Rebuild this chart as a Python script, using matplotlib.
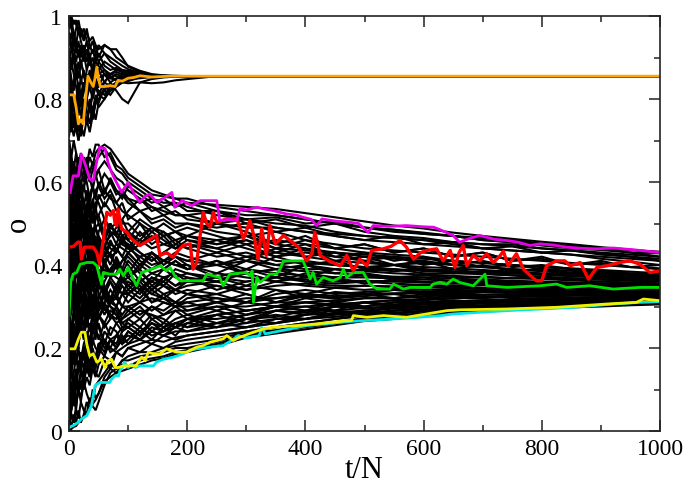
import matplotlib
matplotlib.use("Agg")
import matplotlib.pyplot as plt
from matplotlib.ticker import MultipleLocator, FixedLocator, FixedFormatter

plt.rcParams['font.family'] = ['Liberation Serif', 'DejaVu Serif']

# ---- time grids (t/N) ----
grid_early = [0, 4, 8, 12, 16, 20, 25, 30, 35, 40, 45, 50, 60, 70, 80, 90, 100, 120, 140, 160, 180, 200]
grid_late = [250, 300, 350, 400, 450, 500, 550, 600, 650, 700, 750, 800, 850, 900, 950, 1000]
grid_upper = grid_early + [250, 1000]

# ---- black trajectories of the lower cluster: early part (t <= 200) ----
lower_early = [
    [0.00,0.005,0.01,0.012,0.02,0.025,0.035,0.045,0.055,0.065,0.075,0.09,0.12,0.13,0.14,0.145,0.15,0.16,0.17,0.175,0.185,0.19],
    [0.03,0.01,0.04,0.02,0.05,0.02,0.04,0.07,0.05,0.10,0.08,0.09,0.13,0.15,0.14,0.16,0.155,0.17,0.175,0.18,0.19,0.195],
    [0.08,0.04,0.02,0.05,0.03,0.07,0.05,0.04,0.08,0.07,0.11,0.12,0.14,0.16,0.15,0.17,0.17,0.18,0.185,0.19,0.2,0.20],
    [0.12,0.15,0.10,0.07,0.11,0.14,0.12,0.09,0.07,0.06,0.05,0.07,0.11,0.14,0.15,0.17,0.18,0.19,0.19,0.20,0.205,0.21],
    [0.18,0.14,0.11,0.15,0.10,0.08,0.12,0.15,0.13,0.17,0.14,0.13,0.17,0.15,0.19,0.18,0.20,0.21,0.22,0.215,0.225,0.23],
    [0.22,0.26,0.21,0.17,0.20,0.15,0.19,0.16,0.20,0.15,0.18,0.21,0.22,0.19,0.20,0.22,0.23,0.22,0.21,0.23,0.24,0.24],
    [0.27,0.23,0.29,0.31,0.26,0.30,0.25,0.22,0.26,0.21,0.24,0.26,0.21,0.25,0.24,0.21,0.22,0.25,0.23,0.24,0.26,0.25],
    [0.31,0.35,0.30,0.26,0.23,0.27,0.30,0.27,0.32,0.29,0.26,0.28,0.26,0.29,0.28,0.25,0.25,0.23,0.26,0.24,0.25,0.27],
    [0.35,0.31,0.36,0.32,0.37,0.33,0.29,0.25,0.29,0.27,0.31,0.29,0.33,0.30,0.29,0.26,0.27,0.29,0.28,0.27,0.25,0.26],
    [0.38,0.42,0.38,0.34,0.31,0.36,0.33,0.37,0.34,0.30,0.32,0.29,0.31,0.28,0.27,0.30,0.30,0.28,0.30,0.29,0.31,0.29],
    [0.42,0.38,0.34,0.39,0.35,0.33,0.38,0.34,0.37,0.35,0.32,0.31,0.28,0.31,0.32,0.30,0.29,0.31,0.32,0.31,0.30,0.30],
    [0.46,0.42,0.48,0.44,0.41,0.38,0.42,0.39,0.43,0.40,0.36,0.37,0.34,0.32,0.30,0.33,0.33,0.35,0.31,0.33,0.34,0.33],
    [0.50,0.46,0.43,0.47,0.42,0.39,0.43,0.45,0.40,0.38,0.35,0.34,0.39,0.37,0.35,0.33,0.31,0.34,0.36,0.35,0.33,0.34],
    [0.54,0.50,0.56,0.52,0.49,0.46,0.43,0.47,0.44,0.48,0.45,0.43,0.40,0.38,0.37,0.36,0.35,0.33,0.37,0.36,0.34,0.35],
    [0.58,0.54,0.51,0.55,0.57,0.53,0.49,0.52,0.48,0.46,0.49,0.47,0.44,0.42,0.40,0.39,0.37,0.39,0.35,0.37,0.38,0.37],
    [0.62,0.58,0.64,0.60,0.56,0.59,0.55,0.52,0.49,0.53,0.49,0.46,0.42,0.45,0.44,0.42,0.40,0.36,0.38,0.37,0.35,0.36],
    [0.66,0.62,0.59,0.63,0.60,0.56,0.59,0.56,0.52,0.55,0.51,0.52,0.47,0.44,0.43,0.46,0.45,0.41,0.39,0.41,0.40,0.40],
    [0.70,0.66,0.63,0.67,0.62,0.59,0.63,0.60,0.56,0.59,0.56,0.55,0.51,0.49,0.48,0.46,0.44,0.42,0.43,0.41,0.40,0.39],
    [0.05,0.08,0.12,0.10,0.15,0.19,0.17,0.24,0.21,0.28,0.25,0.32,0.36,0.39,0.41,0.37,0.38,0.42,0.40,0.41,0.43,0.42],
    [0.10,0.14,0.18,0.23,0.20,0.27,0.31,0.28,0.35,0.38,0.36,0.42,0.45,0.42,0.43,0.47,0.46,0.43,0.41,0.43,0.45,0.44],
    [0.15,0.19,0.24,0.21,0.28,0.33,0.30,0.38,0.35,0.44,0.41,0.48,0.51,0.48,0.47,0.45,0.44,0.46,0.44,0.45,0.44,0.45],
    [0.20,0.25,0.29,0.34,0.31,0.37,0.43,0.40,0.46,0.47,0.51,0.52,0.55,0.53,0.52,0.50,0.50,0.47,0.49,0.47,0.48,0.46],
    [0.25,0.29,0.34,0.31,0.38,0.42,0.46,0.44,0.50,0.52,0.55,0.56,0.58,0.56,0.55,0.53,0.52,0.50,0.48,0.50,0.48,0.49],
    [0.30,0.35,0.39,0.44,0.41,0.46,0.50,0.54,0.51,0.55,0.58,0.59,0.62,0.60,0.58,0.57,0.56,0.53,0.51,0.52,0.50,0.50],
    [0.34,0.39,0.44,0.48,0.45,0.50,0.55,0.52,0.57,0.59,0.62,0.63,0.65,0.63,0.61,0.60,0.58,0.56,0.53,0.54,0.52,0.52],
    [0.40,0.44,0.49,0.45,0.52,0.55,0.59,0.62,0.60,0.63,0.65,0.66,0.68,0.66,0.63,0.62,0.60,0.58,0.56,0.55,0.55,0.54],
    [0.45,0.50,0.47,0.53,0.57,0.60,0.58,0.63,0.66,0.64,0.67,0.68,0.69,0.68,0.66,0.64,0.62,0.60,0.58,0.57,0.56,0.56],
    [0.48,0.53,0.58,0.55,0.60,0.62,0.66,0.64,0.68,0.66,0.69,0.69,0.66,0.67,0.64,0.63,0.61,0.59,0.57,0.565,0.56,0.55],
    [0.60,0.64,0.60,0.56,0.52,0.55,0.50,0.47,0.43,0.46,0.41,0.38,0.34,0.37,0.38,0.41,0.42,0.39,0.43,0.41,0.42,0.40],
    [0.64,0.59,0.55,0.58,0.53,0.48,0.51,0.46,0.43,0.39,0.42,0.33,0.29,0.31,0.33,0.36,0.37,0.34,0.31,0.32,0.34,0.33],
    [0.68,0.63,0.58,0.54,0.57,0.50,0.46,0.49,0.44,0.40,0.43,0.36,0.32,0.30,0.28,0.26,0.25,0.27,0.24,0.26,0.25,0.27],
    [0.02,0.05,0.08,0.11,0.09,0.15,0.13,0.20,0.18,0.25,0.22,0.29,0.33,0.31,0.30,0.33,0.34,0.37,0.34,0.36,0.39,0.38],
    [0.07,0.11,0.08,0.05,0.12,0.10,0.15,0.18,0.14,0.22,0.20,0.19,0.24,0.22,0.21,0.24,0.25,0.23,0.27,0.25,0.26,0.25],
    [0.44,0.48,0.52,0.49,0.46,0.51,0.47,0.51,0.55,0.52,0.49,0.50,0.46,0.49,0.50,0.47,0.48,0.51,0.49,0.48,0.46,0.47],
    [0.56,0.52,0.48,0.45,0.49,0.53,0.49,0.46,0.50,0.45,0.41,0.41,0.37,0.39,0.41,0.39,0.38,0.35,0.33,0.32,0.31,0.31],
    [0.28,0.32,0.36,0.33,0.37,0.35,0.40,0.37,0.41,0.36,0.39,0.41,0.45,0.47,0.49,0.51,0.53,0.56,0.54,0.53,0.52,0.52],
    [0.13,0.16,0.19,0.22,0.19,0.17,0.21,0.23,0.20,0.26,0.24,0.23,0.20,0.22,0.23,0.25,0.26,0.24,0.26,0.25,0.27,0.28],
    [0.36,0.33,0.29,0.26,0.30,0.34,0.31,0.35,0.32,0.31,0.28,0.27,0.30,0.28,0.26,0.27,0.28,0.30,0.27,0.28,0.29,0.29],
    [0.52,0.48,0.44,0.47,0.42,0.38,0.35,0.32,0.29,0.31,0.27,0.25,0.21,0.20,0.19,0.20,0.21,0.22,0.24,0.23,0.22,0.23],
    [0.66,0.61,0.57,0.60,0.56,0.51,0.48,0.44,0.47,0.42,0.44,0.45,0.41,0.43,0.45,0.44,0.43,0.45,0.47,0.45,0.46,0.44],
    [0.04,0.09,0.06,0.12,0.17,0.14,0.20,0.17,0.23,0.19,0.16,0.18,0.22,0.20,0.23,0.21,0.24,0.22,0.25,0.24,0.26,0.27],
    [0.24,0.20,0.16,0.20,0.24,0.28,0.25,0.30,0.27,0.33,0.30,0.27,0.31,0.34,0.32,0.35,0.33,0.36,0.33,0.35,0.34,0.36],
    [0.32,0.37,0.41,0.38,0.43,0.39,0.44,0.40,0.37,0.41,0.38,0.36,0.40,0.38,0.41,0.39,0.37,0.40,0.38,0.39,0.37,0.38],
    [0.40,0.36,0.41,0.45,0.41,0.46,0.42,0.47,0.50,0.47,0.44,0.46,0.43,0.40,0.44,0.42,0.45,0.43,0.41,0.43,0.42,0.41],
    [0.49,0.45,0.50,0.47,0.44,0.48,0.52,0.49,0.45,0.49,0.46,0.43,0.47,0.50,0.47,0.45,0.48,0.46,0.49,0.47,0.48,0.47],
    [0.57,0.61,0.65,0.62,0.66,0.63,0.60,0.64,0.61,0.58,0.62,0.59,0.56,0.58,0.55,0.57,0.55,0.53,0.54,0.52,0.53,0.51],
    [0.09,0.05,0.09,0.13,0.09,0.12,0.10,0.13,0.11,0.15,0.13,0.16,0.18,0.17,0.19,0.18,0.20,0.19,0.21,0.20,0.215,0.22],
    [0.16,0.21,0.26,0.23,0.29,0.26,0.31,0.28,0.24,0.28,0.31,0.28,0.25,0.27,0.30,0.28,0.30,0.31,0.29,0.31,0.30,0.31],
    [0.53,0.57,0.53,0.49,0.54,0.50,0.46,0.50,0.46,0.43,0.47,0.44,0.40,0.43,0.39,0.41,0.43,0.40,0.42,0.39,0.41,0.39],
    [0.70,0.66,0.70,0.67,0.64,0.67,0.63,0.66,0.62,0.65,0.61,0.63,0.58,0.60,0.57,0.58,0.56,0.55,0.56,0.54,0.55,0.53],
    [0.11,0.15,0.19,0.16,0.21,0.25,0.22,0.27,0.31,0.28,0.33,0.30,0.34,0.31,0.35,0.33,0.36,0.34,0.37,0.35,0.38,0.36],
    [0.19,0.23,0.27,0.32,0.28,0.33,0.37,0.34,0.39,0.43,0.40,0.45,0.42,0.46,0.43,0.47,0.44,0.48,0.45,0.47,0.44,0.46],
    [0.29,0.25,0.21,0.25,0.29,0.26,0.23,0.27,0.24,0.28,0.25,0.22,0.26,0.23,0.26,0.24,0.27,0.25,0.28,0.26,0.29,0.27],
    [0.37,0.41,0.45,0.42,0.38,0.42,0.46,0.43,0.40,0.37,0.40,0.36,0.33,0.36,0.33,0.30,0.33,0.31,0.34,0.32,0.30,0.32],
    [0.43,0.47,0.44,0.40,0.44,0.41,0.37,0.41,0.38,0.42,0.39,0.43,0.40,0.37,0.40,0.38,0.41,0.38,0.36,0.39,0.41,0.39],
    [0.51,0.55,0.51,0.55,0.51,0.47,0.51,0.55,0.52,0.56,0.53,0.57,0.54,0.57,0.53,0.55,0.51,0.53,0.50,0.51,0.49,0.50],
    [0.59,0.55,0.59,0.55,0.51,0.55,0.51,0.47,0.51,0.47,0.43,0.47,0.44,0.48,0.45,0.49,0.46,0.50,0.46,0.48,0.45,0.47],
    [0.01,0.04,0.02,0.06,0.10,0.07,0.12,0.16,0.13,0.18,0.15,0.20,0.18,0.22,0.20,0.23,0.21,0.24,0.22,0.25,0.23,0.26],
    [0.26,0.30,0.34,0.30,0.34,0.38,0.34,0.30,0.34,0.38,0.35,0.39,0.35,0.32,0.35,0.38,0.35,0.37,0.34,0.37,0.35,0.37],
    [0.47,0.43,0.39,0.43,0.39,0.35,0.39,0.35,0.31,0.35,0.32,0.36,0.33,0.36,0.34,0.37,0.34,0.32,0.35,0.33,0.31,0.33],
    [0.55,0.59,0.63,0.59,0.55,0.51,0.55,0.51,0.55,0.59,0.56,0.60,0.57,0.61,0.58,0.56,0.59,0.57,0.55,0.56,0.54,0.55],
    [0.33,0.29,0.33,0.29,0.25,0.29,0.33,0.29,0.33,0.37,0.33,0.37,0.41,0.38,0.42,0.39,0.43,0.40,0.43,0.40,0.42,0.41],
    [0.14,0.10,0.14,0.18,0.14,0.18,0.15,0.19,0.16,0.20,0.17,0.21,0.19,0.22,0.20,0.22,0.24,0.22,0.24,0.23,0.25,0.24],
    [0.62,0.66,0.62,0.58,0.62,0.58,0.54,0.58,0.54,0.50,0.54,0.50,0.47,0.50,0.47,0.51,0.48,0.45,0.48,0.46,0.44,0.45],
    [0.21,0.17,0.21,0.25,0.21,0.25,0.29,0.25,0.29,0.33,0.29,0.33,0.30,0.27,0.30,0.27,0.29,0.27,0.30,0.28,0.30,0.28],
]

# ---- same trajectories, late part (t >= 250) ----
lower_late = [
    [0.205,0.225,0.235,0.245,0.255,0.265,0.27,0.278,0.283,0.288,0.292,0.295,0.298,0.30,0.303,0.305],
    [0.21,0.23,0.24,0.25,0.26,0.268,0.274,0.281,0.286,0.29,0.294,0.297,0.30,0.302,0.305,0.307],
    [0.215,0.235,0.243,0.255,0.262,0.272,0.278,0.284,0.289,0.294,0.297,0.30,0.303,0.305,0.307,0.309],
    [0.22,0.24,0.25,0.26,0.27,0.277,0.282,0.288,0.293,0.297,0.30,0.303,0.306,0.308,0.31,0.312],
    [0.24,0.25,0.26,0.27,0.275,0.283,0.29,0.295,0.298,0.302,0.305,0.308,0.31,0.312,0.313,0.315],
    [0.25,0.26,0.27,0.28,0.283,0.29,0.296,0.30,0.304,0.307,0.31,0.312,0.314,0.316,0.317,0.318],
    [0.26,0.27,0.275,0.29,0.29,0.297,0.30,0.305,0.307,0.31,0.313,0.315,0.317,0.319,0.32,0.32],
    [0.27,0.28,0.29,0.285,0.30,0.30,0.31,0.31,0.312,0.315,0.318,0.32,0.32,0.322,0.323,0.322],
    [0.28,0.29,0.30,0.30,0.305,0.31,0.315,0.318,0.32,0.322,0.323,0.325,0.326,0.326,0.325,0.325],
    [0.30,0.30,0.31,0.31,0.315,0.32,0.32,0.325,0.327,0.328,0.33,0.33,0.33,0.33,0.329,0.328],
    [0.31,0.32,0.32,0.325,0.32,0.33,0.33,0.332,0.333,0.335,0.334,0.335,0.333,0.332,0.331,0.33],
    [0.32,0.31,0.33,0.34,0.33,0.335,0.34,0.335,0.34,0.338,0.34,0.338,0.336,0.335,0.334,0.333],
    [0.33,0.35,0.34,0.33,0.345,0.34,0.345,0.34,0.343,0.345,0.342,0.34,0.34,0.338,0.337,0.336],
    [0.36,0.34,0.35,0.355,0.35,0.35,0.348,0.35,0.347,0.345,0.346,0.344,0.343,0.342,0.341,0.34],
    [0.34,0.36,0.37,0.36,0.355,0.36,0.355,0.352,0.35,0.352,0.35,0.348,0.346,0.345,0.344,0.343],
    [0.38,0.37,0.36,0.37,0.365,0.36,0.362,0.358,0.356,0.355,0.353,0.352,0.35,0.348,0.347,0.346],
    [0.37,0.39,0.38,0.375,0.37,0.37,0.368,0.365,0.362,0.36,0.358,0.356,0.354,0.352,0.351,0.35],
    [0.41,0.38,0.39,0.385,0.38,0.375,0.372,0.37,0.367,0.365,0.362,0.36,0.358,0.356,0.355,0.353],
    [0.40,0.41,0.40,0.39,0.39,0.385,0.38,0.377,0.374,0.37,0.368,0.366,0.363,0.36,0.358,0.356],
    [0.42,0.43,0.41,0.405,0.40,0.395,0.39,0.386,0.383,0.38,0.375,0.372,0.368,0.365,0.362,0.36],
    [0.44,0.42,0.43,0.42,0.41,0.405,0.40,0.395,0.392,0.388,0.384,0.38,0.376,0.372,0.368,0.364],
    [0.45,0.46,0.44,0.435,0.43,0.42,0.415,0.41,0.40,0.395,0.39,0.386,0.382,0.377,0.372,0.368],
    [0.47,0.45,0.46,0.45,0.44,0.43,0.425,0.42,0.41,0.405,0.40,0.395,0.39,0.385,0.377,0.372],
    [0.48,0.47,0.48,0.46,0.45,0.44,0.435,0.43,0.425,0.42,0.415,0.41,0.405,0.40,0.395,0.39],
    [0.50,0.49,0.49,0.48,0.47,0.46,0.455,0.45,0.445,0.44,0.435,0.43,0.425,0.415,0.408,0.40],
    [0.52,0.51,0.50,0.495,0.48,0.47,0.465,0.46,0.455,0.45,0.445,0.44,0.435,0.428,0.42,0.41],
    [0.54,0.53,0.52,0.51,0.50,0.49,0.485,0.478,0.47,0.465,0.46,0.452,0.446,0.44,0.43,0.42],
    [0.545,0.54,0.535,0.525,0.515,0.505,0.495,0.488,0.478,0.47,0.463,0.456,0.45,0.443,0.437,0.43],
    [0.38,0.41,0.39,0.37,0.39,0.38,0.37,0.375,0.37,0.372,0.368,0.37,0.366,0.365,0.363,0.362],
    [0.35,0.33,0.31,0.33,0.32,0.325,0.33,0.32,0.325,0.323,0.327,0.325,0.328,0.326,0.327,0.326],
    [0.25,0.27,0.28,0.27,0.285,0.29,0.295,0.297,0.30,0.303,0.306,0.308,0.31,0.311,0.312,0.313],
    [0.36,0.39,0.37,0.40,0.38,0.39,0.385,0.39,0.38,0.385,0.38,0.378,0.375,0.372,0.37,0.368],
    [0.28,0.26,0.29,0.28,0.30,0.295,0.30,0.305,0.31,0.308,0.312,0.315,0.317,0.318,0.318,0.317],
    [0.50,0.48,0.45,0.47,0.44,0.45,0.43,0.44,0.42,0.43,0.41,0.42,0.40,0.41,0.395,0.40],
    [0.29,0.31,0.30,0.31,0.30,0.31,0.305,0.31,0.312,0.315,0.316,0.318,0.32,0.321,0.322,0.324],
    [0.53,0.50,0.51,0.49,0.50,0.48,0.47,0.465,0.455,0.45,0.45,0.44,0.435,0.43,0.425,0.42],
    [0.26,0.28,0.30,0.29,0.30,0.31,0.30,0.31,0.312,0.31,0.315,0.317,0.318,0.32,0.321,0.321],
    [0.31,0.29,0.30,0.32,0.31,0.32,0.32,0.325,0.33,0.328,0.33,0.331,0.332,0.333,0.332,0.331],
    [0.24,0.25,0.26,0.27,0.28,0.285,0.29,0.294,0.298,0.30,0.304,0.307,0.309,0.311,0.311,0.31],
    [0.46,0.44,0.42,0.43,0.42,0.41,0.40,0.405,0.40,0.395,0.39,0.385,0.38,0.38,0.378,0.375],
    [0.28,0.29,0.30,0.31,0.305,0.31,0.315,0.317,0.32,0.322,0.323,0.325,0.326,0.327,0.327,0.327],
    [0.35,0.34,0.36,0.35,0.345,0.35,0.348,0.346,0.347,0.345,0.344,0.343,0.342,0.341,0.34,0.339],
    [0.37,0.36,0.37,0.365,0.36,0.362,0.36,0.358,0.357,0.355,0.354,0.353,0.352,0.351,0.35,0.349],
    [0.40,0.42,0.40,0.41,0.40,0.395,0.40,0.39,0.385,0.383,0.38,0.376,0.373,0.37,0.367,0.365],
    [0.46,0.47,0.45,0.44,0.43,0.425,0.42,0.415,0.41,0.405,0.40,0.396,0.392,0.388,0.384,0.38],
    [0.50,0.51,0.49,0.48,0.475,0.47,0.465,0.46,0.45,0.44,0.435,0.43,0.425,0.42,0.415,0.41],
    [0.23,0.24,0.25,0.26,0.27,0.28,0.285,0.29,0.295,0.30,0.302,0.305,0.307,0.309,0.31,0.311],
    [0.32,0.31,0.32,0.33,0.325,0.33,0.332,0.333,0.335,0.336,0.337,0.338,0.338,0.338,0.337,0.336],
    [0.40,0.38,0.39,0.40,0.39,0.385,0.39,0.38,0.38,0.378,0.375,0.37,0.368,0.366,0.364,0.362],
    [0.53,0.52,0.52,0.51,0.50,0.49,0.48,0.475,0.47,0.46,0.455,0.45,0.444,0.44,0.436,0.432],
    [0.37,0.35,0.38,0.36,0.37,0.355,0.365,0.36,0.355,0.36,0.352,0.355,0.35,0.352,0.35,0.349],
    [0.44,0.46,0.43,0.45,0.42,0.43,0.41,0.42,0.40,0.41,0.395,0.40,0.39,0.385,0.38,0.378],
    [0.29,0.27,0.29,0.30,0.29,0.31,0.30,0.31,0.315,0.31,0.318,0.32,0.32,0.322,0.323,0.323],
    [0.33,0.31,0.34,0.32,0.335,0.33,0.34,0.335,0.338,0.34,0.338,0.34,0.339,0.338,0.337,0.337],
    [0.41,0.39,0.42,0.40,0.41,0.39,0.40,0.385,0.39,0.38,0.385,0.378,0.38,0.374,0.372,0.37],
    [0.49,0.50,0.48,0.49,0.47,0.46,0.47,0.45,0.455,0.44,0.445,0.43,0.435,0.425,0.42,0.415],
    [0.45,0.47,0.44,0.46,0.44,0.45,0.43,0.44,0.42,0.43,0.41,0.415,0.40,0.405,0.395,0.392],
    [0.25,0.27,0.26,0.28,0.29,0.285,0.30,0.30,0.305,0.31,0.31,0.313,0.315,0.316,0.316,0.315],
    [0.36,0.38,0.36,0.38,0.37,0.375,0.365,0.37,0.36,0.365,0.36,0.358,0.356,0.355,0.354,0.354],
    [0.31,0.33,0.31,0.325,0.32,0.33,0.32,0.33,0.33,0.334,0.335,0.336,0.336,0.335,0.335,0.334],
    [0.53,0.51,0.515,0.50,0.505,0.49,0.485,0.475,0.47,0.46,0.455,0.447,0.44,0.436,0.43,0.428],
    [0.43,0.41,0.44,0.42,0.43,0.41,0.42,0.40,0.41,0.395,0.40,0.39,0.386,0.382,0.379,0.376],
    [0.26,0.25,0.27,0.27,0.285,0.28,0.29,0.295,0.30,0.30,0.305,0.307,0.31,0.311,0.312,0.312],
    [0.43,0.45,0.42,0.44,0.41,0.42,0.40,0.41,0.39,0.40,0.385,0.39,0.38,0.38,0.376,0.373],
    [0.30,0.28,0.30,0.29,0.31,0.30,0.31,0.315,0.32,0.32,0.325,0.326,0.328,0.329,0.329,0.33],
]

# ---- black trajectories of the upper cluster (grid_upper) ----
upper_paths = [
    [0.99,0.97,0.99,0.98,0.96,0.97,0.95,0.96,0.94,0.95,0.93,0.92,0.93,0.92,0.90,0.89,0.88,0.868,0.86,0.857,0.856,0.855,0.855,0.855],
    [0.97,0.99,0.96,0.93,0.97,0.94,0.91,0.94,0.90,0.92,0.89,0.91,0.88,0.87,0.875,0.865,0.862,0.86,0.858,0.856,0.855,0.855,0.855,0.855],
    [0.95,0.92,0.95,0.91,0.94,0.90,0.93,0.89,0.91,0.87,0.89,0.88,0.86,0.855,0.845,0.86,0.855,0.857,0.855,0.856,0.855,0.855,0.855,0.855],
    [0.93,0.96,0.92,0.89,0.92,0.88,0.91,0.87,0.90,0.86,0.88,0.86,0.87,0.85,0.845,0.855,0.85,0.858,0.853,0.855,0.855,0.855,0.855,0.855],
    [0.91,0.87,0.91,0.88,0.85,0.89,0.86,0.83,0.87,0.84,0.87,0.85,0.86,0.84,0.82,0.80,0.79,0.84,0.848,0.852,0.854,0.855,0.855,0.855],
    [0.89,0.85,0.82,0.86,0.89,0.84,0.87,0.82,0.85,0.88,0.86,0.87,0.84,0.83,0.835,0.84,0.838,0.84,0.838,0.84,0.845,0.848,0.855,0.855],
    [0.87,0.83,0.80,0.77,0.81,0.78,0.82,0.86,0.83,0.86,0.84,0.83,0.86,0.85,0.86,0.855,0.85,0.857,0.855,0.855,0.855,0.855,0.855,0.855],
    [0.85,0.81,0.77,0.80,0.76,0.80,0.84,0.80,0.83,0.80,0.83,0.81,0.82,0.84,0.85,0.848,0.85,0.853,0.855,0.855,0.855,0.855,0.855,0.855],
    [0.83,0.79,0.75,0.72,0.75,0.71,0.76,0.80,0.77,0.82,0.84,0.81,0.80,0.83,0.84,0.85,0.86,0.856,0.855,0.855,0.855,0.855,0.855,0.855],
    [0.81,0.77,0.73,0.76,0.72,0.75,0.79,0.74,0.78,0.75,0.79,0.82,0.81,0.83,0.83,0.84,0.848,0.85,0.853,0.855,0.855,0.855,0.855,0.855],
    [0.78,0.74,0.71,0.74,0.70,0.73,0.77,0.74,0.80,0.77,0.81,0.78,0.80,0.82,0.83,0.84,0.843,0.852,0.855,0.855,0.855,0.855,0.855,0.855],
    [0.75,0.72,0.76,0.73,0.70,0.74,0.71,0.75,0.72,0.76,0.79,0.80,0.82,0.81,0.83,0.84,0.848,0.853,0.855,0.855,0.855,0.855,0.855,0.855],
    [0.73,0.77,0.74,0.80,0.84,0.81,0.84,0.81,0.85,0.83,0.86,0.87,0.89,0.88,0.87,0.865,0.862,0.858,0.856,0.855,0.855,0.855,0.855,0.855],
    [0.71,0.75,0.79,0.76,0.81,0.85,0.82,0.87,0.90,0.87,0.91,0.93,0.91,0.90,0.89,0.88,0.872,0.862,0.857,0.855,0.855,0.855,0.855,0.855],
    [1.00,0.97,0.94,0.97,0.99,0.96,0.94,0.97,0.93,0.91,0.93,0.90,0.93,0.92,0.92,0.90,0.878,0.865,0.858,0.856,0.855,0.855,0.855,0.855],
    [0.96,0.93,0.89,0.86,0.83,0.80,0.78,0.80,0.77,0.81,0.84,0.81,0.84,0.86,0.87,0.87,0.868,0.86,0.856,0.855,0.855,0.855,0.855,0.855],
    [0.98,1.00,0.98,0.99,0.97,0.95,0.97,0.94,0.92,0.94,0.91,0.89,0.91,0.89,0.88,0.87,0.865,0.86,0.857,0.855,0.855,0.855,0.855,0.855],
    [0.88,0.92,0.96,0.93,0.90,0.93,0.89,0.92,0.88,0.90,0.87,0.89,0.87,0.86,0.865,0.86,0.858,0.855,0.855,0.855,0.855,0.855,0.855,0.855],
    [0.76,0.80,0.84,0.88,0.85,0.89,0.86,0.82,0.86,0.82,0.85,0.83,0.84,0.86,0.855,0.85,0.853,0.855,0.855,0.855,0.855,0.855,0.855,0.855],
    [0.92,0.89,0.86,0.83,0.79,0.76,0.80,0.77,0.74,0.78,0.75,0.79,0.83,0.82,0.84,0.85,0.852,0.855,0.855,0.855,0.855,0.855,0.855,0.855],
]

# ---- highlighted trajectories ----
orange_t = [0,8,12,16,20,24,28,32,37,41,44,47,50,53,60,70,78,83,90,100,110,120,140,170,200,250,1000]
orange_o = [0.81,0.81,0.78,0.74,0.75,0.74,0.80,0.855,0.84,0.83,0.85,0.877,0.85,0.83,0.83,0.832,0.83,
            0.845,0.843,0.85,0.852,0.856,0.853,0.855,0.855,0.855,0.855]

magenta_t = [2,7,16,21,28,35,41,47,52,61,66,72,80,89,100,112,120,128,137,148,
             160,174,179,191,208,222,250,255,270,284,289,300,318,330,346,368,385,396,410,419,
             428,450,475,490,506,515,540,571,600,617,628,650,661,680,695,720,741,760,780,797,
             820,842,870,893,921,960,1000]
magenta_o = [0.575,0.615,0.615,0.667,0.64,0.607,0.603,0.65,0.684,0.68,0.647,0.623,0.60,0.575,0.599,
             0.567,0.551,0.565,0.571,0.551,0.56,0.575,0.539,0.555,0.543,0.555,0.555,0.507,0.51,0.507,
             0.535,0.533,0.539,0.535,0.531,0.523,0.52,0.515,0.51,0.495,0.511,0.506,0.503,0.50,0.479,
             0.495,0.493,0.495,0.492,0.491,0.485,0.471,0.455,0.465,0.471,0.462,0.459,0.455,0.447,0.451,
             0.448,0.443,0.44,0.439,0.441,0.436,0.43]

red_t = [0,8,15,19,21,26,41,47,52,58,64,70,75,78,81,83,89,98,106,120,
         130,143,148,154,165,176,185,193,205,210,216,227,233,239,244,250,267,284,289,295,
         300,306,313,320,326,334,340,349,363,374,388,402,411,416,425,440,459,470,481,492,
         504,512,532,545,560,571,583,595,605,622,633,645,653,660,667,673,684,695,707,718,
         728,735,743,757,769,780,791,800,808,825,839,848,865,879,893,910,932,949,966,983,1000]
red_o = [0.443,0.445,0.455,0.455,0.414,0.443,0.443,0.43,0.402,0.46,0.527,0.52,0.531,0.50,0.495,
         0.535,0.487,0.479,0.463,0.447,0.455,0.467,0.471,0.423,0.43,0.419,0.435,0.447,0.451,0.39,
         0.406,0.527,0.50,0.491,0.527,0.503,0.511,0.511,0.491,0.463,0.48,0.507,0.47,0.414,0.487,
         0.423,0.495,0.451,0.471,0.459,0.443,0.41,0.427,0.479,0.423,0.41,0.398,0.423,0.386,0.414,
         0.398,0.435,0.439,0.445,0.459,0.443,0.414,0.43,0.435,0.439,0.41,0.435,0.394,0.43,0.447,
         0.398,0.423,0.41,0.427,0.406,0.42,0.433,0.398,0.427,0.39,0.375,0.362,0.362,0.398,0.41,
         0.41,0.398,0.406,0.366,0.394,0.398,0.406,0.41,0.402,0.382,0.386]

green_t = [0,3,7,13,19,30,41,47,55,58,69,81,86,92,100,114,123,140,154,165,
           171,179,188,227,233,255,261,272,300,306,310,312,318,323,334,340,351,357,363,396,
           402,408,413,419,430,447,459,464,470,481,498,509,521,543,549,566,577,611,616,628,
           639,650,661,684,704,707,741,797,825,842,881,921,966,1000]
green_o = [0.278,0.36,0.378,0.382,0.402,0.406,0.406,0.398,0.354,0.382,0.378,0.378,0.39,0.374,0.394,
           0.35,0.382,0.39,0.398,0.386,0.394,0.374,0.362,0.362,0.378,0.37,0.35,0.378,0.382,0.374,
           0.386,0.31,0.37,0.358,0.37,0.378,0.378,0.39,0.41,0.41,0.39,0.366,0.382,0.354,0.37,
           0.362,0.37,0.39,0.37,0.382,0.382,0.354,0.342,0.342,0.354,0.342,0.346,0.346,0.354,0.358,
           0.354,0.366,0.358,0.35,0.378,0.35,0.346,0.35,0.354,0.346,0.35,0.342,0.346,0.346]

yellow_t = [0,10,16,21,27,30,35,41,47,55,61,66,72,78,84,92,114,117,123,129,
            134,143,154,165,182,199,216,227,239,261,267,278,289,312,329,346,385,419,470,478,
            481,504,532,571,605,639,662,741,825,910,960,972,1000]
yellow_o = [0.198,0.198,0.222,0.238,0.238,0.21,0.181,0.186,0.166,0.173,0.153,0.169,0.173,0.153,0.153,
            0.157,0.157,0.166,0.178,0.169,0.19,0.186,0.186,0.198,0.19,0.19,0.202,0.206,0.214,0.222,
            0.23,0.218,0.226,0.238,0.246,0.25,0.254,0.258,0.266,0.266,0.278,0.274,0.278,0.274,0.282,
            0.29,0.292,0.294,0.298,0.306,0.31,0.318,0.314]

cyan_t = [0,7,16,21,30,38,41,44,52,69,72,78,84,86,92,94,100,106,112,120,
          143,148,160,177,193,204,216,239,261,275,286,300,322,326,332,346,402,475,571,628,
          650,741,854,921,966,1000]
cyan_o = [0.009,0.013,0.021,0.029,0.037,0.061,0.085,0.109,0.117,0.117,0.125,0.133,0.133,0.145,0.157,
          0.166,0.153,0.161,0.153,0.157,0.157,0.166,0.173,0.178,0.186,0.194,0.198,0.202,0.206,0.218,
          0.23,0.224,0.23,0.25,0.234,0.238,0.254,0.264,0.272,0.278,0.282,0.29,0.298,0.306,0.31,0.312]

x_ticks = [0, 200, 400, 600, 800, 1000]
x_tick_labels = ['0', '200', '400', '600', '800', '1000']
y_ticks = [0, 0.2, 0.4, 0.6, 0.8, 1.0]
y_tick_labels = ['0', '0.2', '0.4', '0.6', '0.8', '1']

# ---- figure ----
fig = plt.figure(figsize=(6.89, 4.85), dpi=100)
ax = fig.add_axes([69/689, 53/485, 591/689, 415/485])

t_lower = grid_early + grid_late
for i, (e, l) in enumerate(zip(lower_early, lower_late)):
    vals = e + l
    if len(vals) != len(t_lower):
        raise ValueError(f"lower path {i}: {len(e)} early, {len(l)} late")
    ax.plot(t_lower, vals, color='black', lw=1.5, solid_joinstyle='miter')
for i, path in enumerate(upper_paths):
    if len(path) != len(grid_upper):
        raise ValueError(f"upper path {i}: {len(path)}")
    ax.plot(grid_upper, path, color='black', lw=1.5, solid_joinstyle='miter')

ax.plot(cyan_t, cyan_o, color='#00e5e5', lw=2.0)
ax.plot(yellow_t, yellow_o, color='#f0f000', lw=2.0)
ax.plot(green_t, green_o, color='#00e000', lw=2.0)
ax.plot(red_t, red_o, color='#ff0000', lw=2.4)
ax.plot(magenta_t, magenta_o, color='#e600e6', lw=2.0)
ax.plot(orange_t, orange_o, color='#ffa500', lw=2.0)

ax.set_xlim(0, 1000)
ax.set_ylim(0, 1)
ax.xaxis.set_major_locator(FixedLocator(x_ticks))
ax.xaxis.set_major_formatter(FixedFormatter(x_tick_labels))
ax.yaxis.set_major_locator(FixedLocator(y_ticks))
ax.yaxis.set_major_formatter(FixedFormatter(y_tick_labels))
ax.xaxis.set_minor_locator(MultipleLocator(100))
ax.yaxis.set_minor_locator(MultipleLocator(0.1))
ax.tick_params(which='both', direction='in', top=True, right=True, width=1.1, colors='#222222')
ax.tick_params(which='major', length=8, labelsize=17, pad=5, labelcolor='black')
ax.tick_params(which='minor', length=4)
for s in ax.spines.values():
    s.set_linewidth(1.2)
    s.set_color('#222222')

ax.set_xlabel('t/N', fontsize=22, labelpad=-3)
ax.set_ylabel('o', fontsize=22, labelpad=0)

fig.savefig('out.png', dpi=100)
